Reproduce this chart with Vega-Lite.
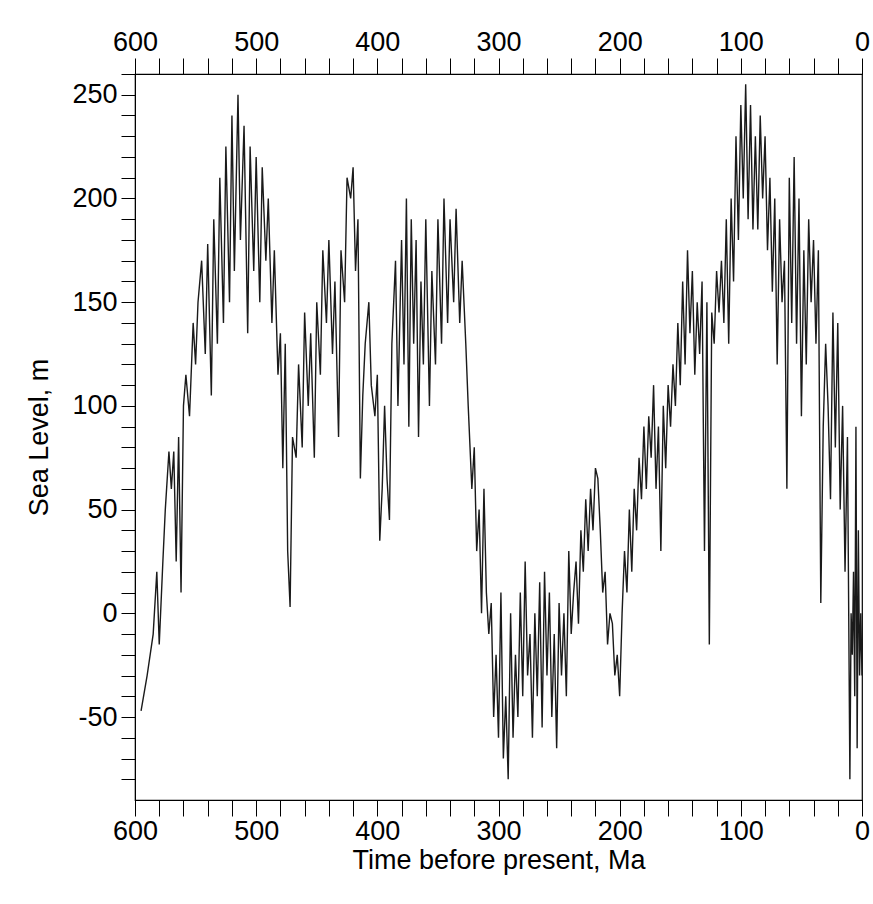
{
"$schema":"https://vega.github.io/schema/vega-lite/v6.json",
"width":727,"height":726,
"autosize":{"type":"none"},
"padding":{"left":135,"top":74,"right":11,"bottom":104},
"background":"white",
"config":{"view":{"stroke":"black","strokeWidth":1.2}},
"data":{"values":[
{"t":595,"s":-47},{"t":590,"s":-30},{"t":585,"s":-10},{"t":582,"s":20},{"t":580,"s":-15},{"t":577,"s":25},{"t":575,"s":50},{"t":572,"s":78},{"t":570,"s":60},{"t":568,"s":78},{"t":566,"s":25},{"t":564,"s":85},{"t":562,"s":10},{"t":560,"s":100},{"t":558,"s":115},{"t":555,"s":95},{"t":552,"s":140},{"t":550,"s":120},{"t":548,"s":150},{"t":545,"s":170},{"t":542,"s":125},{"t":540,"s":178},{"t":537,"s":105},{"t":535,"s":190},{"t":532,"s":130},{"t":530,"s":210},{"t":527,"s":140},{"t":525,"s":225},{"t":522,"s":150},{"t":520,"s":240},{"t":518,"s":165},{"t":515,"s":250},{"t":513,"s":180},{"t":510,"s":235},{"t":507,"s":135},{"t":505,"s":225},{"t":502,"s":165},{"t":500,"s":220},{"t":497,"s":150},{"t":495,"s":215},{"t":492,"s":170},{"t":490,"s":200},{"t":487,"s":140},{"t":485,"s":175},{"t":482,"s":115},{"t":480,"s":135},{"t":478,"s":70},{"t":476,"s":130},{"t":474,"s":30},{"t":472,"s":3},{"t":470,"s":85},{"t":467,"s":75},{"t":465,"s":120},{"t":462,"s":80},{"t":460,"s":145},{"t":457,"s":100},{"t":455,"s":135},{"t":452,"s":75},{"t":450,"s":150},{"t":447,"s":115},{"t":445,"s":175},{"t":442,"s":140},{"t":440,"s":180},{"t":437,"s":125},{"t":435,"s":160},{"t":432,"s":85},{"t":430,"s":175},{"t":427,"s":150},{"t":425,"s":210},{"t":422,"s":200},{"t":420,"s":215},{"t":418,"s":165},{"t":416,"s":190},{"t":414,"s":65},{"t":412,"s":105},{"t":410,"s":130},{"t":407,"s":150},{"t":405,"s":110},{"t":402,"s":95},{"t":400,"s":115},{"t":398,"s":35},{"t":396,"s":60},{"t":394,"s":100},{"t":392,"s":65},{"t":390,"s":45},{"t":388,"s":130},{"t":385,"s":170},{"t":383,"s":100},{"t":380,"s":180},{"t":378,"s":120},{"t":376,"s":200},{"t":374,"s":90},{"t":372,"s":190},{"t":370,"s":130},{"t":368,"s":180},{"t":366,"s":85},{"t":364,"s":160},{"t":362,"s":120},{"t":360,"s":190},{"t":357,"s":100},{"t":355,"s":165},{"t":352,"s":120},{"t":350,"s":190},{"t":347,"s":130},{"t":345,"s":200},{"t":342,"s":140},{"t":340,"s":190},{"t":337,"s":150},{"t":335,"s":195},{"t":332,"s":140},{"t":330,"s":170},{"t":327,"s":130},{"t":325,"s":100},{"t":322,"s":60},{"t":320,"s":80},{"t":318,"s":30},{"t":316,"s":50},{"t":314,"s":0},{"t":312,"s":60},{"t":310,"s":10},{"t":308,"s":-10},{"t":306,"s":5},{"t":304,"s":-50},{"t":302,"s":-20},{"t":300,"s":-60},{"t":298,"s":10},{"t":296,"s":-70},{"t":294,"s":-40},{"t":292,"s":-80},{"t":290,"s":0},{"t":288,"s":-60},{"t":286,"s":-20},{"t":284,"s":-50},{"t":282,"s":10},{"t":280,"s":-40},{"t":278,"s":25},{"t":276,"s":-30},{"t":274,"s":-10},{"t":272,"s":-60},{"t":270,"s":0},{"t":268,"s":-40},{"t":266,"s":15},{"t":264,"s":-55},{"t":262,"s":20},{"t":260,"s":-30},{"t":258,"s":10},{"t":256,"s":-50},{"t":254,"s":-10},{"t":252,"s":-65},{"t":250,"s":5},{"t":248,"s":-30},{"t":246,"s":0},{"t":244,"s":-40},{"t":242,"s":30},{"t":240,"s":-10},{"t":238,"s":10},{"t":236,"s":25},{"t":234,"s":-5},{"t":232,"s":40},{"t":230,"s":20},{"t":228,"s":55},{"t":226,"s":30},{"t":224,"s":60},{"t":222,"s":40},{"t":220,"s":70},{"t":218,"s":65},{"t":216,"s":40},{"t":214,"s":10},{"t":212,"s":20},{"t":210,"s":-15},{"t":208,"s":0},{"t":206,"s":-5},{"t":204,"s":-30},{"t":202,"s":-20},{"t":200,"s":-40},{"t":198,"s":0},{"t":196,"s":30},{"t":194,"s":10},{"t":192,"s":50},{"t":190,"s":20},{"t":188,"s":60},{"t":186,"s":40},{"t":184,"s":75},{"t":182,"s":55},{"t":180,"s":90},{"t":178,"s":60},{"t":176,"s":95},{"t":174,"s":75},{"t":172,"s":110},{"t":170,"s":60},{"t":168,"s":90},{"t":166,"s":30},{"t":164,"s":100},{"t":162,"s":70},{"t":160,"s":110},{"t":158,"s":90},{"t":156,"s":120},{"t":154,"s":100},{"t":152,"s":140},{"t":150,"s":110},{"t":148,"s":160},{"t":146,"s":120},{"t":144,"s":175},{"t":142,"s":135},{"t":140,"s":165},{"t":138,"s":115},{"t":136,"s":150},{"t":134,"s":125},{"t":132,"s":160},{"t":130,"s":30},{"t":128,"s":150},{"t":126,"s":-15},{"t":124,"s":145},{"t":122,"s":130},{"t":120,"s":165},{"t":118,"s":145},{"t":116,"s":170},{"t":114,"s":140},{"t":112,"s":190},{"t":110,"s":130},{"t":108,"s":200},{"t":106,"s":160},{"t":104,"s":230},{"t":102,"s":180},{"t":100,"s":245},{"t":98,"s":200},{"t":96,"s":255},{"t":94,"s":190},{"t":92,"s":245},{"t":90,"s":185},{"t":88,"s":230},{"t":86,"s":185},{"t":84,"s":240},{"t":82,"s":200},{"t":80,"s":230},{"t":78,"s":175},{"t":76,"s":210},{"t":74,"s":155},{"t":72,"s":200},{"t":70,"s":120},{"t":68,"s":190},{"t":66,"s":150},{"t":64,"s":170},{"t":62,"s":60},{"t":60,"s":210},{"t":58,"s":140},{"t":56,"s":220},{"t":54,"s":130},{"t":52,"s":200},{"t":50,"s":95},{"t":48,"s":175},{"t":46,"s":120},{"t":44,"s":190},{"t":42,"s":150},{"t":40,"s":180},{"t":38,"s":130},{"t":36,"s":175},{"t":34,"s":5},{"t":32,"s":90},{"t":30,"s":130},{"t":28,"s":100},{"t":26,"s":55},{"t":24,"s":145},{"t":22,"s":80},{"t":20,"s":140},{"t":18,"s":50},{"t":16,"s":100},{"t":14,"s":20},{"t":12,"s":85},{"t":10,"s":-80},{"t":9,"s":0},{"t":8,"s":-20},{"t":7,"s":20},{"t":6,"s":-40},{"t":5,"s":90},{"t":4,"s":-65},{"t":3,"s":40},{"t":2,"s":-30},{"t":1,"s":0},{"t":0,"s":-30}
]},
"layer":[
{"mark":{"type":"line","color":"#1a1a1a","strokeWidth":1.4},
"encoding":{
"x":{"field":"t","type":"quantitative","scale":{"domain":[600,0],"nice":false},
"axis":{"title":"Time before present, Ma","values":[0,20,40,60,80,100,120,140,160,180,200,220,240,260,280,300,320,340,360,380,400,420,440,460,480,500,520,540,560,580,600],"labelExpr":"datum.value % 100 == 0 ? datum.label : ''","labelOverlap":false,"labelFlush":false,"labelFont":"Liberation Sans","titleFont":"Liberation Sans","labelFontSize":27,"titleFontSize":27,"titleFontWeight":"normal","labelColor":"black","titleColor":"black","tickColor":"black","domainColor":"black","grid":false,"tickSize":16,"labelPadding":2,"titlePadding":3}},
"y":{"field":"s","type":"quantitative","scale":{"domain":[-90,260],"nice":false},
"axis":{"title":"Sea Level, m","values":[-80,-70,-60,-50,-40,-30,-20,-10,0,10,20,30,40,50,60,70,80,90,100,110,120,130,140,150,160,170,180,190,200,210,220,230,240,250,260],"labelExpr":"datum.value % 50 == 0 ? toString(datum.value) : ''","labelOverlap":false,"labelFlush":false,"labelFont":"Liberation Sans","titleFont":"Liberation Sans","labelFontSize":27,"titleFontSize":27,"titleFontWeight":"normal","labelColor":"black","titleColor":"black","tickColor":"black","domainColor":"black","grid":false,"tickSize":14,"labelPadding":4,"titlePadding":18}},
"order":{"field":"t","type":"quantitative","sort":"descending"}}},
{"mark":{"type":"line","opacity":0},
"encoding":{
"x":{"field":"t","type":"quantitative","scale":{"domain":[600,0],"nice":false},
"axis":{"orient":"top","title":null,"values":[0,20,40,60,80,100,120,140,160,180,200,220,240,260,280,300,320,340,360,380,400,420,440,460,480,500,520,540,560,580,600],"labelExpr":"datum.value % 100 == 0 ? datum.label : ''","labelOverlap":false,"labelFlush":false,"labelFont":"Liberation Sans","labelFontSize":27,"labelColor":"black","tickColor":"black","domainColor":"black","grid":false,"tickSize":16,"labelPadding":2}},
"y":{"field":"s","type":"quantitative","axis":null}}}
],
"resolve":{"axis":{"x":"independent","y":"independent"}}
}
